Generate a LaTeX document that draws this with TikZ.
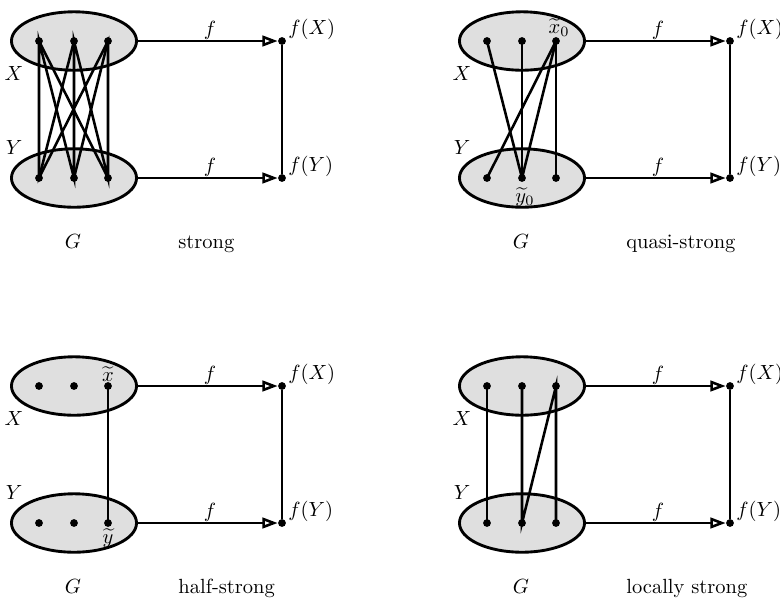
\documentclass[tikz,border=0pt]{standalone}
\usetikzlibrary{arrows.meta,shapes.geometric}
\begin{document}
\begin{tikzpicture}[x=0.4878pt,y=-0.4878pt,
  setE/.style={ellipse,draw,fill=gray!25,line width=1.4pt,minimum width=61pt,minimum height=28.5pt,inner sep=0pt},
  dotn/.style={circle,fill,inner sep=0pt,minimum size=3.8pt},
  edgeln/.style={line width=1.25pt},
  mapar/.style={line width=1.25pt,-{Triangle[open,length=7.5pt,width=5.2pt]}},
  lab/.style={inner sep=0pt}]
\useasboundingbox (0,0) rectangle (780,599);

% ---------- Panel 1: strong ----------
\begin{scope}
\node[setE] (aX) at (74,41) {};
\node[setE] (aY) at (74,178) {};
\node[dotn] (ax1) at (39,41) {};
\node[dotn] (ax2) at (74,41) {};
\node[dotn] (ax3) at (108,41) {};
\node[dotn] (ay1) at (39,178) {};
\node[dotn] (ay2) at (74,178) {};
\node[dotn] (ay3) at (108,178) {};
\node[dotn] (afx) at (282,41) {};
\node[dotn] (afy) at (282,178) {};
\draw[edgeln] (ay1.center) -- (ax1.center) -- (ay2.center) -- (ax2.center) -- (ay3.center) -- (ax3.center) -- cycle;
\draw[edgeln] (ax1.center) -- (ay3.center);
\draw[edgeln] (ax2.center) -- (ay1.center);
\draw[edgeln] (ax3.center) -- (ay2.center);
\draw[mapar] (aX.east) -- (afx);
\draw[mapar] (aY.east) -- (afy);
\draw[edgeln] (afx) -- (afy);
\node[lab] (af1) at (210,30) {$f$};
\node[lab] (af2) at (210,167) {$f$};
\node[lab,anchor=west] (afX) at (288,29) {$f(X)$};
\node[lab,anchor=west] (afY) at (288,166) {$f(Y)$};
\node[lab] (aXl) at (14,73) {$X$};
\node[lab] (aYl) at (14,147) {$Y$};
\node[lab,anchor=base] (aG) at (73,248) {$G$};
\node[lab,anchor=base west] (aT) at (178,248) {strong};
\end{scope}

% ---------- Panel 2: quasi-strong ----------
\begin{scope}[shift={(448,0)}]
\node[setE] (bX) at (74,41) {};
\node[setE] (bY) at (74,178) {};
\node[dotn] (bx1) at (39,41) {};
\node[dotn] (bx2) at (74,41) {};
\node[dotn] (bx3) at (108,41) {};
\node[dotn] (by1) at (39,178) {};
\node[dotn] (by2) at (74,178) {};
\node[dotn] (by3) at (108,178) {};
\node[dotn] (bfx) at (282,41) {};
\node[dotn] (bfy) at (282,178) {};
\draw[edgeln] (bx1.center) -- (by2.center);
\draw[edgeln] (bx2.center) -- (by2.center);
\draw[edgeln] (bx3.center) -- (by1.center);
\draw[edgeln] (bx3.center) -- (by2.center);
\draw[edgeln] (bx3.center) -- (by3.center);
\draw[mapar] (bX.east) -- (bfx);
\draw[mapar] (bY.east) -- (bfy);
\draw[edgeln] (bfx) -- (bfy);
\node[lab] (bf1) at (210,30) {$f$};
\node[lab] (bf2) at (210,167) {$f$};
\node[lab,anchor=west] (bfX) at (288,29) {$f(X)$};
\node[lab,anchor=west] (bfY) at (288,166) {$f(Y)$};
\node[lab] (bXl) at (14,73) {$X$};
\node[lab] (bYl) at (14,147) {$Y$};
\node[lab] (bx0) at (111,28) {$\widetilde{x}_0$};
\node[lab] (by0) at (77,197) {$\widetilde{y}_0$};
\node[lab,anchor=base] (bG) at (73,248) {$G$};
\node[lab,anchor=base west] (bT) at (178,248) {quasi-strong};
\end{scope}

% ---------- Panel 3: half-strong ----------
\begin{scope}[shift={(0,345)}]
\node[setE] (cX) at (74,41) {};
\node[setE] (cY) at (74,178) {};
\node[dotn] (cx1) at (39,41) {};
\node[dotn] (cx2) at (74,41) {};
\node[dotn] (cx3) at (108,41) {};
\node[dotn] (cy1) at (39,178) {};
\node[dotn] (cy2) at (74,178) {};
\node[dotn] (cy3) at (108,178) {};
\node[dotn] (cfx) at (282,41) {};
\node[dotn] (cfy) at (282,178) {};
\draw[edgeln] (cx3.center) -- (cy3.center);
\draw[mapar] (cX.east) -- (cfx);
\draw[mapar] (cY.east) -- (cfy);
\draw[edgeln] (cfx) -- (cfy);
\node[lab] (cf1) at (210,30) {$f$};
\node[lab] (cf2) at (210,167) {$f$};
\node[lab,anchor=west] (cfX) at (288,29) {$f(X)$};
\node[lab,anchor=west] (cfY) at (288,166) {$f(Y)$};
\node[lab] (cXl) at (14,73) {$X$};
\node[lab] (cYl) at (14,147) {$Y$};
\node[lab] (cxt) at (108,29) {$\widetilde{x}$};
\node[lab] (cyt) at (108,193) {$\widetilde{y}$};
\node[lab,anchor=base] (cG) at (73,248) {$G$};
\node[lab,anchor=base west] (cT) at (178,248) {half-strong};
\end{scope}

% ---------- Panel 4: locally strong ----------
\begin{scope}[shift={(448,345)}]
\node[setE] (dX) at (74,41) {};
\node[setE] (dY) at (74,178) {};
\node[dotn] (dx1) at (39,41) {};
\node[dotn] (dx2) at (74,41) {};
\node[dotn] (dx3) at (108,41) {};
\node[dotn] (dy1) at (39,178) {};
\node[dotn] (dy2) at (74,178) {};
\node[dotn] (dy3) at (108,178) {};
\node[dotn] (dfx) at (282,41) {};
\node[dotn] (dfy) at (282,178) {};
\draw[edgeln] (dx1.center) -- (dy1.center);
\draw[edgeln] (dx2.center) -- (dy2.center) -- (dx3.center) -- (dy3.center);
\draw[mapar] (dX.east) -- (dfx);
\draw[mapar] (dY.east) -- (dfy);
\draw[edgeln] (dfx) -- (dfy);
\node[lab] (df1) at (210,30) {$f$};
\node[lab] (df2) at (210,167) {$f$};
\node[lab,anchor=west] (dfX) at (288,29) {$f(X)$};
\node[lab,anchor=west] (dfY) at (288,166) {$f(Y)$};
\node[lab] (dXl) at (14,73) {$X$};
\node[lab] (dYl) at (14,147) {$Y$};
\node[lab,anchor=base] (dG) at (73,248) {$G$};
\node[lab,anchor=base west] (dT) at (178,248) {locally strong};
\end{scope}
\end{tikzpicture}
\end{document}
